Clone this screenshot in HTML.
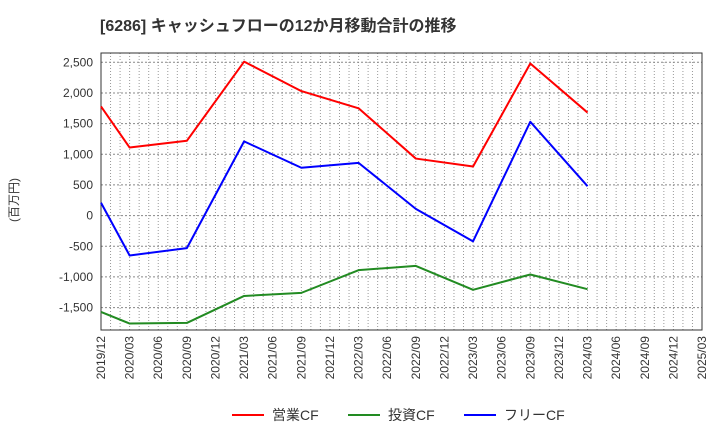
<!DOCTYPE html>
<html><head><meta charset="utf-8"><style>
body{margin:0;background:#fff;font-family:"Liberation Sans","Noto Sans CJK JP",sans-serif}
</style></head><body>
<svg width="720" height="440" xmlns="http://www.w3.org/2000/svg">
<text x="100" y="31" font-size="16" font-weight="bold" fill="#333">[6286]  キャッシュフローの12か月移動合計の推移</text>
<text transform="translate(18,200) rotate(-90)" font-size="12" fill="#333" text-anchor="middle">(百万円)</text>
<g id="grid"></g><g id="axes"></g><g id="series"></g><g id="legend"></g>
</svg>
<script>
const dates=["2019/12","2020/03","2020/09","2021/03","2021/09","2022/03","2022/09","2023/03","2023/09","2024/03"];
const opCF=[1780,1110,1220,2510,2030,1750,930,800,2480,1680];
const invCF=[-1570,-1760,-1750,-1310,-1260,-890,-820,-1210,-960,-1200];
const freeCF=[210,-650,-530,1210,780,860,110,-420,1530,480];
const yTicks=[2500,2000,1500,1000,500,0,-500,-1000,-1500];
const xTicks=["2019/12","2020/03","2020/06","2020/09","2020/12","2021/03","2021/06","2021/09","2021/12","2022/03","2022/06","2022/09","2022/12","2023/03","2023/06","2023/09","2023/12","2024/03","2024/06","2024/09","2024/12","2025/03"];
const NS="http://www.w3.org/2000/svg";
const L=101,R=702,T=53,B=330;
function mi(d){const[a,b]=d.split("/").map(Number);return (a-2019)*12+b-12;}
const totalM=mi("2025/03");
const X=d=>L+(R-L)*mi(d)/totalM;
const Y=v=>215.6-v*0.06133;
function el(tag,attrs,parent,txt){const e=document.createElementNS(NS,tag);for(const k in attrs)e.setAttribute(k,attrs[k]);if(txt!==undefined)e.textContent=txt;document.getElementById(parent).appendChild(e);return e;}
for(let m=1;m<totalM;m++){const x=L+(R-L)*m/totalM;
 const g=el("line",{x1:x,x2:x,y1:T,y2:B,stroke:"#999","stroke-dasharray":"1,2","stroke-width":1},"grid");
 
 }
yTicks.forEach(v=>{const y=Y(v);
 const g=el("line",{x1:L,x2:R,y1:y,y2:y,stroke:"#888","stroke-dasharray":"2,2","stroke-width":1},"grid");
 
 
 const t=el("text",{x:L-8,y:y+4,"font-size":12,fill:"#333","text-anchor":"end"},"axes",v.toLocaleString("en-US"));
 
 });
const fr=el("rect",{x:L,y:T,width:R-L,height:B-T,fill:"none",stroke:"#333","stroke-width":1},"axes");


xTicks.forEach(d=>{const x=X(d);
 const t=el("text",{transform:`translate(${x+4},${B+6}) rotate(-90)`,"font-size":12,fill:"#333","text-anchor":"end"},"axes",d);
 
 });
function line(vals,color,name){
 const p=el("polyline",{points:vals.map((v,i)=>X(dates[i])+","+Y(v)).join(" "),fill:"none",stroke:color,"stroke-width":2,"stroke-linejoin":"round"},"series");
 
 }
line(opCF,"#ff0000","operating-cf-line");
line(invCF,"#228b22","investing-cf-line");
line(freeCF,"#0000ff","free-cf-line");
[["営業CF","#ff0000",232],["投資CF","#228b22",348],["フリーCF","#0000ff",464]].forEach(([n,c,x])=>{
 const l=el("line",{x1:x,x2:x+32,y1:415,y2:415,stroke:c,"stroke-width":2},"legend");
 
 
 const t=el("text",{x:x+40,y:420,"font-size":14,fill:"#333"},"legend",n);
 
 });
</script>
</body></html>
